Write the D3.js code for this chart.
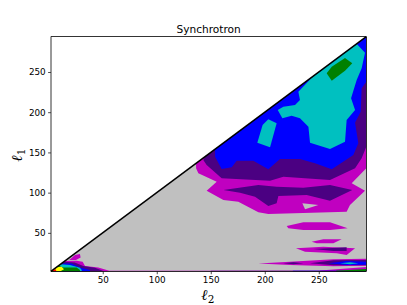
<!DOCTYPE html>
<html>
<head>
<meta charset="utf-8">
<script src="https://cdn.jsdelivr.net/npm/d3@7"></script>
<style>
  html, body { margin: 0; padding: 0; background: #fff; }
  svg text { font-family: "DejaVu Sans", sans-serif; fill: #000; }
</style>
</head>
<body>
<div id="chart"></div>
<script>
// Contour outlines, as [l2, l1] pairs
const lTicks = [50, 100, 150, 200, 250];
const lDomain = [2, 294];

const magentaUpper = [[136.4,136.4],[136.4,130.2],[138.5,124],[155.5,113.6],[146.2,102.4],[161.7,90.8],[175.5,88.8],[194.1,75.5],[203.3,73.4],[275.8,76.3],[278.9,84.6],[292.8,102.4],[280.5,111.6],[294,130.2],[294,294]];
const greyHole = [[234.8,86.7],[249.6,84.6],[237.3,79.2]];
const indigoBand = [[161.7,103.3],[194.1,109.5],[211,107.4],[235.7,106.2],[260.4,109.5],[281,103.3],[260.4,90],[238.8,97],[212.6,95.8],[211,86.7],[203.3,83.4],[191,95],[177.1,100]];
const indigoUpper = [[144.7,144.7],[143.1,140.6],[146.2,134.4],[160.1,117.8],[204.9,114.9],[217.2,119.8],[260.4,115.7],[283.6,130.2],[289.7,142.6],[294,157],[294,294]];
const blueUpper = [[154,154],[154,144.7],[160.1,129.4],[169.4,131.5],[174,139.7],[189.4,139.7],[203.3,129],[214.1,141.8],[232.6,141.8],[246.5,136.4],[262,129],[282,146.8],[286.6,161.3],[283.6,187],[288.8,200.7],[289.7,229.7],[294,238],[294,294]];
const cyanMain = [[245,245],[231.1,225.5],[232.6,215.2],[228,209],[217.2,206.9],[212,202.7],[216.3,192.4],[224.9,195.7],[232.6,192.4],[240.4,182],[241.9,162.1],[260.4,154.2],[274.3,163.4],[275.8,190.3],[283.6,202.7],[279.9,217.2],[285.1,240],[289.7,254.5],[292.8,274],[285,285]];
const cyanIsland = [[203.3,191.1],[211,186.2],[204.9,156.3],[193.1,162.1],[198,184.1]];
const greenPeak = [[274.3,267.4],[281,260.8],[274.3,251.6],[262,239.2],[257.3,248.3],[262,256.6]];

// thin bands near the bottom right
const magentaA = [[220.3,58.5],[235.7,63.1],[260.4,63.1],[276.8,55.6],[260.4,53.5],[235.7,53.5],[221.8,55.6]];
const magentaB = [[243.4,39],[254.2,41.9],[271.2,41.9],[263.5,37],[248.1,37]];
const magentaC = [[228.9,30.8],[254.2,32.8],[283.6,30.8],[275.8,22.5],[266.6,24.5],[237.3,26.6]];
const indigoC = [[245,29.9],[275.8,32],[275.8,27.4],[263.5,27.4]];
const magentaD = [[194,12],[223.4,14.2],[263.5,17.1],[294,17.9],[294,9.2],[263.5,8.6],[223.4,10]];
const indigoD1 = [[217.2,12.1],[226.5,13.3],[235.7,12.1],[226.5,10.9]];
const indigoD2 = [[241.9,12.1],[263.5,15.8],[294,16.2],[294,9.6],[263.5,9.6]];
const blueD = [[258.9,12.1],[275.8,15],[294,14.2],[294,10.4],[275.8,10]];
const cyanD = [[269.7,12.1],[278.9,13.3],[286.6,12.1],[278.9,10.9]];
const magentaWedge = [[251.2,3.2],[294,7.6],[294,2],[251.2,2]];
const greenWedge = [[266.6,3],[294,5],[294,2],[266.6,2]];

// low multipole corner and the strip along the bottom edge
const magentaLow = [[13.5,13.5],[13.5,15],[25.8,15.4],[31.4,14.1],[33.6,8.7],[45.9,7],[56,3],[294,2.9],[294,2],[2,2]];
const magentaBlob = [[24.3,22.4],[28.9,23.7],[29.5,19.5],[25.2,16.2],[19,16.2]];
const indigoLow = [[14.1,14.1],[24,13],[32,8.7],[42.8,6.7],[50,3],[50,2],[2,2]];
const blueLow = [[13.5,12],[21.2,12],[28.9,7],[38.2,3.8],[38.2,2],[2,2]];
const cyanLow = [[11,11],[19.7,10],[28.9,6.7],[30.5,3.8],[30.5,2],[2,2]];
const greenLow = [[9,9],[13.5,7],[25.8,7],[28.9,3.8],[28.9,2],[2,2]];
const yellowLow = [[7.3,7.3],[12,7.9],[14.1,4.6],[10.4,2],[2,2]];
const redLow = [[3.6,3.6],[6.7,4.6],[7,2],[2,2]];
const indigoStrip = [[150,2.9],[294,2.9],[294,2],[150,2]];
const blueStrip = [[226,2.9],[294,2.9],[294,2],[226,2]];
const greenStrip = [[266,2.9],[294,2.9],[294,2],[266,2]];

const levelColors = { grey: "#c0c0c0", magenta: "#c000c0", indigo: "#4b0082", blue: "#0000ff", cyan: "#00c0c0", green: "#008000", yellow: "#ffff00", red: "#ff0000" };

const width = 407, height = 305;
const margin = { top: 36.6, right: 40.7, bottom: 33.55, left: 50.9 };

const x = d3.scaleLinear().domain(lDomain).range([margin.left, width - margin.right]);
const y = d3.scaleLinear().domain(lDomain).range([height - margin.bottom, margin.top]);

const svg = d3.select("#chart").append("svg")
  .attr("width", width)
  .attr("height", height)
  .style("display", "block");

const line = d3.line().x(d => x(d[0])).y(d => y(d[1])).curve(d3.curveLinearClosed);

// Lower triangle, everything above the diagonal stays white
const triangle = [[lDomain[0], lDomain[0]], [lDomain[1], lDomain[1]], [lDomain[1], lDomain[0]]];
svg.append("defs").append("clipPath").attr("id", "tri").append("path").attr("d", line(triangle));

const g = svg.append("g").attr("clip-path", "url(#tri)");
const layers = [
  [triangle, "grey"], [magentaUpper, "magenta"], [greyHole, "grey"], [indigoBand, "indigo"],
  [indigoUpper, "indigo"], [blueUpper, "blue"], [cyanMain, "cyan"], [cyanIsland, "cyan"], [greenPeak, "green"],
  [magentaA, "magenta"], [magentaB, "magenta"], [magentaC, "magenta"], [indigoC, "indigo"],
  [magentaD, "magenta"], [indigoD1, "indigo"], [indigoD2, "indigo"], [blueD, "blue"], [cyanD, "cyan"],
  [magentaLow, "magenta"], [magentaBlob, "magenta"], [magentaWedge, "magenta"],
  [indigoStrip, "indigo"], [blueStrip, "blue"], [greenStrip, "green"], [greenWedge, "green"],
  [indigoLow, "indigo"], [blueLow, "blue"], [cyanLow, "cyan"], [greenLow, "green"], [yellowLow, "yellow"], [redLow, "red"]
];
layers.forEach(([pts, level]) => {
  g.append("path").attr("d", line(pts)).attr("fill", levelColors[level]);
});

// Diagonal
svg.append("line")
  .attr("x1", x(lDomain[0])).attr("y1", y(lDomain[0]))
  .attr("x2", x(lDomain[1])).attr("y2", y(lDomain[1]))
  .attr("stroke", "#000").attr("stroke-width", 1.5);

// Axes
const xAxis = svg.append("g").attr("transform", `translate(0,${height - margin.bottom})`)
  .call(d3.axisBottom(x).tickValues(lTicks).tickSize(2.8).tickPadding(2.4));
const yAxis = svg.append("g").attr("transform", `translate(${margin.left},0)`)
  .call(d3.axisLeft(y).tickValues(lTicks).tickSize(2.8).tickPadding(2.4));
[xAxis, yAxis].forEach(a => {
  a.select(".domain").remove();
  a.selectAll("text").style("font-size", "8.8px").style("font-family", "'DejaVu Sans'");
  a.selectAll("line").attr("stroke-width", 0.7);
});

// Spines
const spines = svg.append("g").attr("stroke", "#000").attr("stroke-width", 0.8);
spines.append("line").attr("x1", 51).attr("x2", 51).attr("y1", margin.top).attr("y2", height - margin.bottom);
spines.append("line").attr("x1", 366.5).attr("x2", 366.5).attr("y1", margin.top).attr("y2", height - margin.bottom);
spines.append("line").attr("x1", margin.left).attr("x2", width - margin.right).attr("y1", 36.5).attr("y2", 36.5);
spines.append("line").attr("x1", margin.left).attr("x2", width - margin.right).attr("y1", 271.5).attr("y2", 271.5);

svg.append("text").attr("x", (margin.left + width - margin.right) / 2).attr("y", 33)
  .attr("text-anchor", "middle").style("font-size", "10.6px").text("Synchrotron");

const xLabel = svg.append("text").attr("x", 208).attr("y", 300).attr("text-anchor", "middle")
  .style("font-size", "15px").style("font-style", "italic").style("font-weight", "bold").style("font-family", "'DejaVu Serif'");
xLabel.append("tspan").text("ℓ");
xLabel.append("tspan").attr("dy", 2.5).style("font-size", "10.5px").style("font-style", "normal").style("font-weight", "normal").text("2");

const yLabel = svg.append("text").attr("transform", "translate(22,155) rotate(-90)").attr("text-anchor", "middle")
  .style("font-size", "15px").style("font-style", "italic").style("font-weight", "bold").style("font-family", "'DejaVu Serif'");
yLabel.append("tspan").text("ℓ");
yLabel.append("tspan").attr("dy", 2.5).style("font-size", "10.5px").style("font-style", "normal").style("font-weight", "normal").text("1");
</script>
</body>
</html>
